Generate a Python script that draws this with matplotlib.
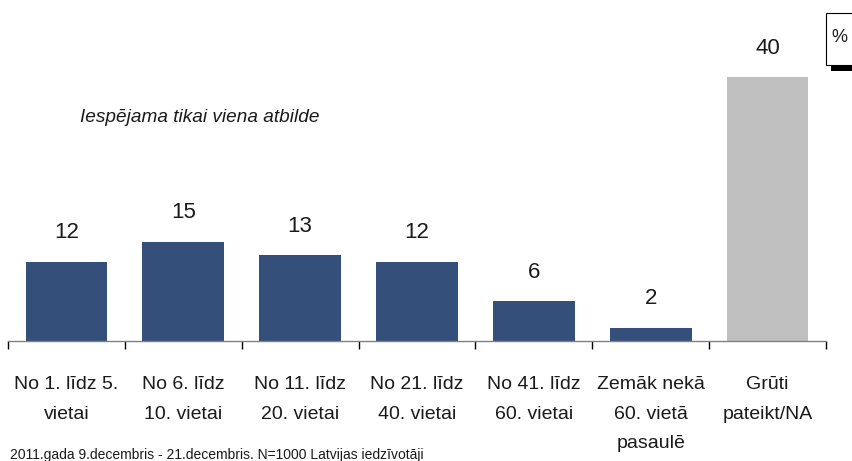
import matplotlib
matplotlib.use("Agg")
import matplotlib.pyplot as plt
from matplotlib.patches import Rectangle

categories = ["No 1. līdz 5.\nvietai", "No 6. līdz\n10. vietai", "No 11. līdz\n20. vietai",
              "No 21. līdz\n40. vietai", "No 41. līdz\n60. vietai",
              "Zemāk nekā\n60. vietā\npasaulē", "Grūti\npateikt/NA"]
values = [12, 15, 13, 12, 6, 2, 40]
colors = ["#34507A"] * 6 + ["#C0C0C0"]

plt.rcParams['font.family'] = ['Liberation Sans', 'DejaVu Sans']

fig = plt.figure(figsize=(8.52, 4.61), dpi=100)
W, H = 852, 461
ax = fig.add_axes([8 / W, (H - 341) / H, (826 - 8) / W, (341 - 16) / H])

x = list(range(len(values)))
ax.bar(x, values, width=0.70, color=colors, zorder=2)
ax.set_xlim(-0.5, len(values) - 0.5)
ax.set_ylim(0, 49.3)

for xi, v in zip(x, values):
    ax.annotate(str(v), (xi, v), xytext=(0, 21), textcoords="offset points",
                ha="center", va="center", fontsize=16, color="#1a1a1a")

for s in ["top", "right", "left"]:
    ax.spines[s].set_visible(False)
ax.spines["bottom"].set_color("#808080")
ax.spines["bottom"].set_linewidth(1.0)
ax.set_yticks([])
ax.set_xticks([i - 0.5 for i in range(len(values) + 1)])
ax.set_xticklabels([])
ax.tick_params(axis="x", direction="out", length=6, width=1, color="black")

for xi, lab in zip(x, categories):
    ax.annotate(lab, (xi, 0), xytext=(0, -25.5), textcoords="offset points",
                ha="center", va="top", fontsize=14, color="#1a1a1a", linespacing=1.94)

fig.text(80 / W, (H - 117) / H, "Iespējama tikai viena atbilde", fontsize=13.7,
         style="italic", ha="left", va="center", color="#1a1a1a")

fig.text(10 / W, (H - 455) / H, "2011.gada 9.decembris - 21.decembris. N=1000 Latvijas iedzīvotāji",
         fontsize=10, ha="left", va="center", color="#1a1a1a")

# % box
fig.patches.append(Rectangle((831 / W, (H - 71) / H), 30 / W, 6 / H, transform=fig.transFigure,
                             facecolor="black", edgecolor="none"))
fig.patches.append(Rectangle((826 / W, (H - 65) / H), 40 / W, 52 / H, transform=fig.transFigure,
                             facecolor="white", edgecolor="black", linewidth=0.8))
fig.text(839 / W, (H - 37) / H, "%", fontsize=13, ha="center", va="center", color="#1a1a1a")

fig.savefig("out.png", dpi=100)
